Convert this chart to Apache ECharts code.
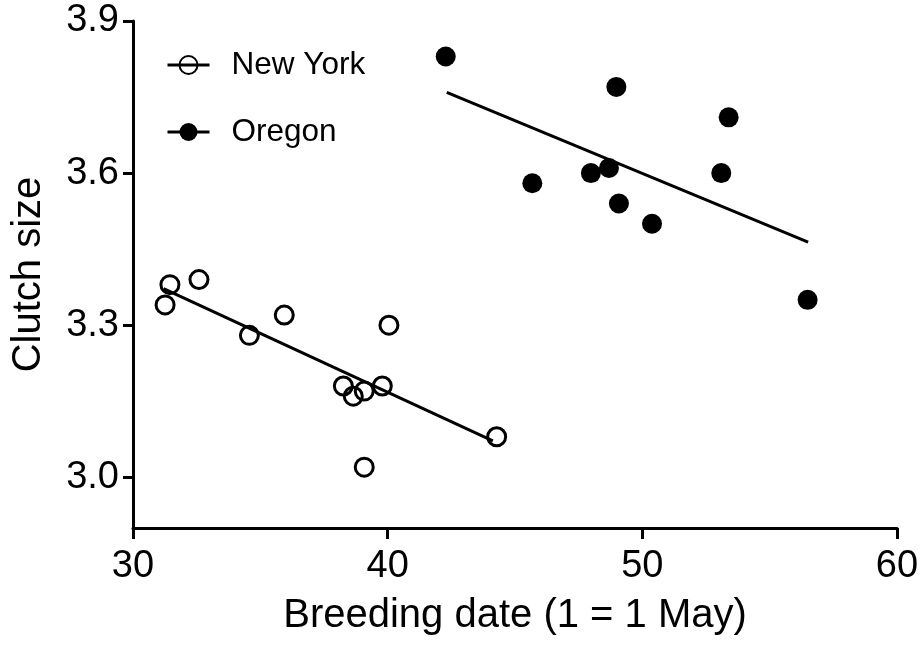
<!DOCTYPE html>
<html>
<head>
<meta charset="utf-8">
<title>Clutch size vs breeding date</title>
<script src="https://cdn.jsdelivr.net/npm/echarts@6/dist/echarts.min.js"></script>
<style>
    html, body { margin: 0; padding: 0; background: #fff; }
    #chart { width: 924px; height: 645px; }
</style>
</head>
<body>
<div id="chart"></div>
<script>
// 数据：纽约（空心圆）
var newYork = [
    [31.26, 3.34], [31.45, 3.38], [32.59, 3.39], [34.57, 3.28],
    [35.94, 3.32], [40.05, 3.30], [38.26, 3.18], [38.65, 3.16],
    [39.08, 3.17], [39.79, 3.18], [39.08, 3.02], [44.28, 3.08]
];
// 数据：俄勒冈（实心圆）
var oregon = [
    [42.28, 3.83], [48.98, 3.77], [53.39, 3.71], [45.68, 3.58],
    [47.98, 3.60], [48.69, 3.61], [53.10, 3.60], [49.08, 3.54],
    [50.38, 3.50], [56.49, 3.35]
];
// 回归线端点
var newYorkFit = [[31.2, 3.372], [44.13, 3.072]];
var oregonFit = [[42.32, 3.759], [56.51, 3.464]];
// 刻度
var yTicks = [3.0, 3.3, 3.6, 3.9];

var font = 'Liberation Sans, Arial, sans-serif';
var chart = echarts.init(document.getElementById('chart'));

var option = {
    animation: false,
    grid: { left: 133, right: 27, top: 21, bottom: 117 },
    legend: {
        orient: 'vertical',
        left: 161,
        top: 44,
        itemWidth: 42,
        itemHeight: 22.5,
        itemGap: 35,
        data: ['New York', 'Oregon'],
        lineStyle: { color: '#000', width: 3, opacity: 1 },
        textStyle: { fontFamily: font, fontSize: 31.5, color: '#000', padding: [0, 0, 0, 17] }
    },
    xAxis: {
        type: 'value',
        min: 30, max: 60, interval: 10,
        name: 'Breeding date (1 = 1 May)',
        nameLocation: 'middle',
        nameGap: 68,
        nameTextStyle: { fontFamily: font, fontSize: 40, color: '#000' },
        splitLine: { show: false },
        axisLine: { lineStyle: { color: '#000', width: 3 } },
        axisTick: { length: 11, lineStyle: { color: '#000', width: 3 } },
        axisLabel: { margin: 20, fontFamily: font, fontSize: 38, color: '#000' }
    },
    yAxis: {
        type: 'value',
        min: 2.9, max: 3.9,
        name: 'Clutch size',
        nameLocation: 'middle',
        nameGap: 84,
        nameTextStyle: { fontFamily: font, fontSize: 40, color: '#000' },
        splitLine: { show: false },
        axisLine: { show: true, lineStyle: { color: '#000', width: 3 } },
        axisTick: { show: true, length: 10, customValues: yTicks, lineStyle: { color: '#000', width: 3 } },
        axisLabel: {
            margin: 14, fontFamily: font, fontSize: 38, color: '#000',
            customValues: yTicks,
            formatter: function (v) { return v.toFixed(1); }
        }
    },
    series: [
        {
            name: 'New York',
            type: 'line',
            data: newYork,
            symbol: 'circle',
            symbolSize: 18,
            itemStyle: { color: 'rgba(255,255,255,0)', borderColor: '#000', borderWidth: 3 },
            lineStyle: { opacity: 0 },
            z: 3
        },
        {
            name: 'Oregon',
            type: 'line',
            data: oregon,
            symbol: 'circle',
            symbolSize: 20,
            itemStyle: { color: '#000', borderColor: '#000', borderWidth: 0 },
            lineStyle: { opacity: 0 },
            z: 3
        },
        {
            name: 'nyFit',
            type: 'line',
            data: newYorkFit,
            showSymbol: false,
            lineStyle: { color: '#000', width: 3 },
            z: 2
        },
        {
            name: 'orFit',
            type: 'line',
            data: oregonFit,
            showSymbol: false,
            lineStyle: { color: '#000', width: 3 },
            z: 2
        }
    ]
};

chart.setOption(option);
</script>
</body>
</html>
